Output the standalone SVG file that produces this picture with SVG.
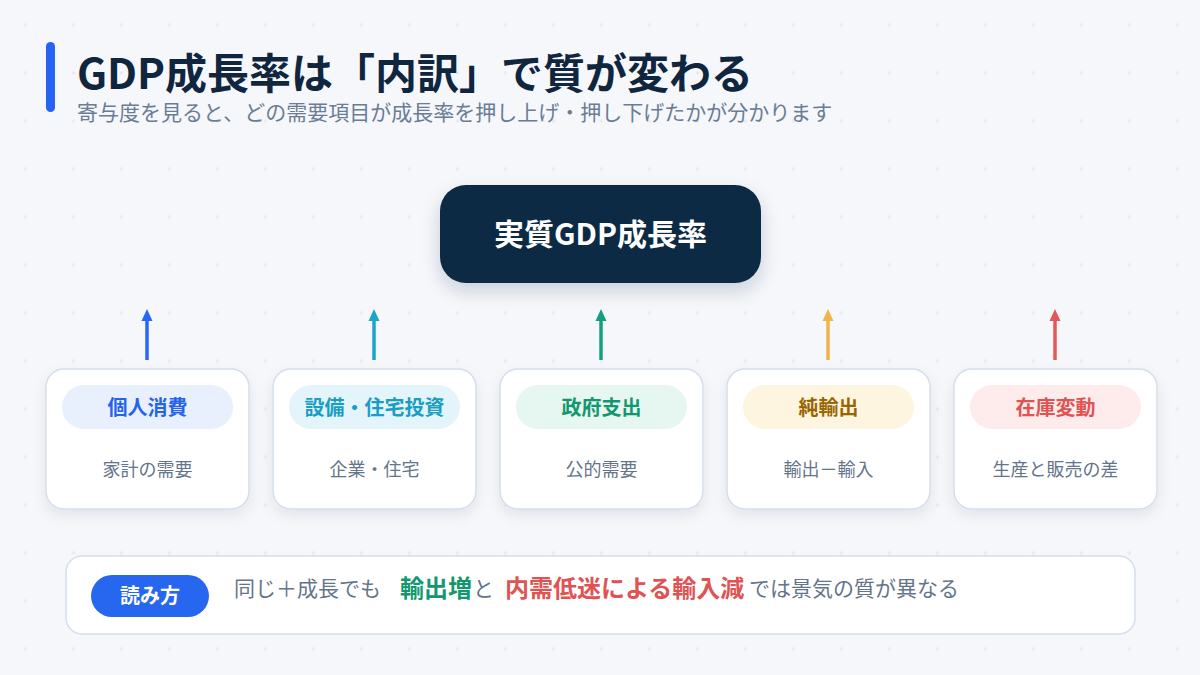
<svg xmlns="http://www.w3.org/2000/svg" width="1200" height="675" viewBox="0 0 1200 675">
<defs>
<pattern id="grid" x="0" y="0" width="48" height="48" patternUnits="userSpaceOnUse">
<path d="M23.5 25h4M25.5 23v4" stroke="#e3e8ef" stroke-width="1.2"/>
</pattern>
<filter id="sh" x="-20%" y="-20%" width="140%" height="150%">
<feDropShadow dx="0" dy="6" stdDeviation="7" flood-color="#1e293b" flood-opacity="0.08"/>
</filter>
<filter id="sh2" x="-20%" y="-30%" width="140%" height="170%">
<feDropShadow dx="0" dy="8" stdDeviation="9" flood-color="#0f2742" flood-opacity="0.18"/>
</filter>
<style>
text{font-family:"Noto Sans CJK JP","Noto Sans",sans-serif;}
.card{fill:#ffffff;stroke:#d5deea;stroke-width:1.5;}
.lbl{font-size:20px;font-weight:700;text-anchor:middle;}
.desc{font-size:18px;fill:#64748b;text-anchor:middle;}
.arr{stroke-width:3.5;fill:none;}
.note{font-size:21px;fill:#64748b;}
.em{font-size:24px;font-weight:700;}
</style>
</defs>
<rect width="1200" height="675" fill="#f5f7fb"/>
<rect width="1200" height="675" fill="url(#grid)"/>

<g id="header">
<rect x="46" y="42" width="9" height="70" rx="4.5" fill="#2563f0"/>
<text x="77" y="89" font-size="42" font-weight="700" fill="#10263f">GDP成長率は「内訳」で質が変わる</text>
<text x="77" y="120" font-size="21" fill="#6a7d95">寄与度を見ると、どの需要項目が成長率を押し上げ・押し下げたかが分かります</text>
</g>

<g id="gdp">
<rect x="440" y="185" width="321" height="98" rx="26" fill="#0f2a44" filter="url(#sh2)"/>
<text x="600.5" y="245" font-size="30" font-weight="700" fill="#ffffff" text-anchor="middle">実質GDP成長率</text>
</g>

<g id="connectors">
<line class="arr" x1="147" y1="360" x2="147" y2="319" stroke="#2a66f5"/>
<path d="M141.5 321L147 309L152.5 321Z" fill="#2a66f5"/>
<line class="arr" x1="374" y1="360" x2="374" y2="319" stroke="#1ba5c9"/>
<path d="M368.5 321L374 309L379.5 321Z" fill="#1ba5c9"/>
<line class="arr" x1="601" y1="360" x2="601" y2="319" stroke="#14a07f"/>
<path d="M595.5 321L601 309L606.5 321Z" fill="#14a07f"/>
<line class="arr" x1="828" y1="360" x2="828" y2="319" stroke="#f1b44a"/>
<path d="M822.5 321L828 309L833.5 321Z" fill="#f1b44a"/>
<line class="arr" x1="1055" y1="360" x2="1055" y2="319" stroke="#e05858"/>
<path d="M1049.5 321L1055 309L1060.5 321Z" fill="#e05858"/>
</g>

<g id="c1">
<rect class="card" x="46" y="369" width="203" height="140" rx="18" filter="url(#sh)"/>
<rect x="62" y="385" width="171" height="44" rx="22" fill="#e8f0fe"/>
<text class="lbl" x="147.5" y="414.5" fill="#2563eb">個人消費</text>
<text class="desc" x="147.5" y="476">家計の需要</text>
</g>
<g id="c2">
<rect class="card" x="273" y="369" width="203" height="140" rx="18" filter="url(#sh)"/>
<rect x="289" y="385" width="171" height="44" rx="22" fill="#e3f5fb"/>
<text class="lbl" x="374.5" y="414.5" fill="#1a9ec4">設備・住宅投資</text>
<text class="desc" x="374.5" y="476">企業・住宅</text>
</g>
<g id="c3">
<rect class="card" x="500" y="369" width="203" height="140" rx="18" filter="url(#sh)"/>
<rect x="516" y="385" width="171" height="44" rx="22" fill="#e6f6f0"/>
<text class="lbl" x="601.5" y="414.5" fill="#12976f">政府支出</text>
<text class="desc" x="601.5" y="476">公的需要</text>
</g>
<g id="c4">
<rect class="card" x="727" y="369" width="203" height="140" rx="18" filter="url(#sh)"/>
<rect x="743" y="385" width="171" height="44" rx="22" fill="#fef5e0"/>
<text class="lbl" x="828.5" y="414.5" fill="#9a6500">純輸出</text>
<text class="desc" x="828.5" y="476">輸出－輸入</text>
</g>
<g id="c5">
<rect class="card" x="954" y="369" width="203" height="140" rx="18" filter="url(#sh)"/>
<rect x="970" y="385" width="171" height="44" rx="22" fill="#fdeceb"/>
<text class="lbl" x="1055.5" y="414.5" fill="#e05353">在庫変動</text>
<text class="desc" x="1055.5" y="476">生産と販売の差</text>
</g>

<g id="note">
<rect x="66" y="556" width="1069" height="78" rx="16" fill="#ffffff" stroke="#d5deea" stroke-width="1.5"/>
<rect x="91" y="575" width="118" height="42" rx="21" fill="#2767f0"/>
<text x="150" y="603" font-size="20" font-weight="700" fill="#ffffff" text-anchor="middle">読み方</text>
<text class="note" x="234" y="596">同じ＋成長でも</text>
<text class="em" x="400" y="597" fill="#12976f">輸出増</text>
<text class="note" x="473" y="596">と</text>
<text class="em" x="505" y="597" fill="#e05353">内需低迷による輸入減</text>
<text class="note" x="749" y="596">では景気の質が異なる</text>
</g>
</svg>
